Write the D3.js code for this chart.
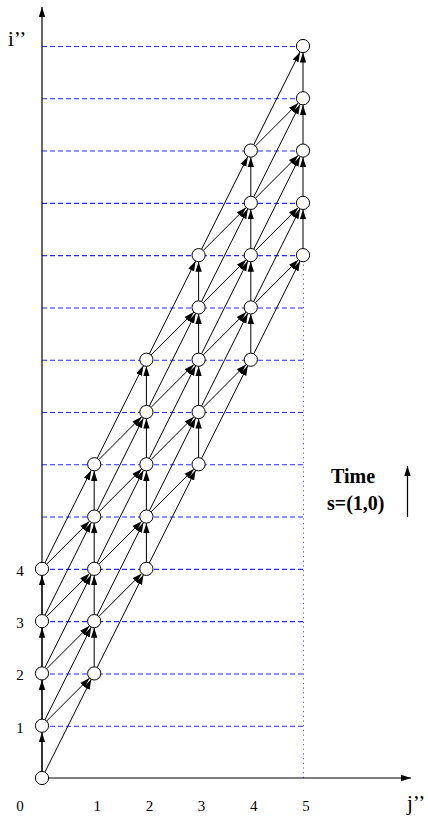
<!DOCTYPE html>
<html>
<head>
<meta charset="utf-8">
<script src="https://cdn.jsdelivr.net/npm/d3@7"></script>
<style>
  body { margin: 0; background: #fff; }
  text { font-family: "Liberation Serif", "DejaVu Serif", serif; }
</style>
</head>
<body>
<script>
// columns j'' and the first i'' of each column (5 nodes per column)
jValues = [0, 1, 2, 3, 4, 5]
colStart = [0, 2, 4, 6, 8, 10]
nodesPerCol = 5
// dependence vectors (dj, di)
deps = [[0, 1], [1, 1], [1, 2]]
// horizontal guide levels
levels = [1, 2, 3, 4, 5, 6, 7, 8, 9, 10, 11, 12, 13, 14]
xTicks = ["0", "1", "2", "3", "4", "5"]
yTicks = ["1", "2", "3", "4"]

width = 428
height = 817
r = 6.6

x = d3.scaleLinear().domain([0, 5]).range([42, 303])
y = d3.scaleLinear().domain([0, 14]).range([778, 46])

nodes = []
jValues.forEach((j, k) => {
  for (let n = 0; n < nodesPerCol; n++) nodes.push({j: j, i: colStart[k] + n})
})
has = new Set(nodes.map(d => d.j + "," + d.i))

edges = []
nodes.forEach(s => {
  deps.forEach(([dj, di]) => {
    if (has.has((s.j + dj) + "," + (s.i + di))) edges.push({s: s, t: {j: s.j + dj, i: s.i + di}})
  })
})

svg = d3.select("body").append("svg")
  .attr("width", width)
  .attr("height", height)

defs = svg.append("defs")
defs.append("marker")
  .attr("id", "head")
  .attr("markerUnits", "userSpaceOnUse")
  .attr("viewBox", "0 -4 10 8")
  .attr("refX", 10)
  .attr("refY", 0)
  .attr("markerWidth", 10)
  .attr("markerHeight", 8)
  .attr("orient", "auto")
  .append("path")
  .attr("d", "M0,-3.2L10,0L0,3.2Z")
  .attr("fill", "#000")

// guides
svg.append("g").selectAll("line")
  .data(levels)
  .join("line")
  .attr("x1", x(0))
  .attr("x2", x(5))
  .attr("y1", d => y(d) + 0.5)
  .attr("y2", d => y(d) + 0.5)
  .attr("stroke", "#2a2aff")
  .attr("stroke-width", 1.1)
  .attr("stroke-dasharray", "5,3")

svg.append("line")
  .attr("x1", x(5) + 0.5)
  .attr("x2", x(5) + 0.5)
  .attr("y1", y(10))
  .attr("y2", y(0))
  .attr("stroke", "#5555ff")
  .attr("stroke-width", 1)
  .attr("stroke-dasharray", "1.2,3.5")

// axes
svg.append("line")
  .attr("x1", x(0)).attr("y1", y(0))
  .attr("x2", x(0)).attr("y2", 7)
  .attr("stroke", "#000").attr("stroke-width", 1.2)
  .attr("marker-end", "url(#head)")
svg.append("line")
  .attr("x1", x(0)).attr("y1", y(0))
  .attr("x2", 411).attr("y2", y(0))
  .attr("stroke", "#000").attr("stroke-width", 1.2)
  .attr("marker-end", "url(#head)")

// dependence arrows
svg.append("g").selectAll("line")
  .data(edges)
  .join("line")
  .each(function(d) {
    const x1 = x(d.s.j), y1 = y(d.s.i), x2 = x(d.t.j), y2 = y(d.t.i)
    const L = Math.hypot(x2 - x1, y2 - y1)
    const ux = (x2 - x1) / L, uy = (y2 - y1) / L
    d3.select(this)
      .attr("x1", x1 + ux * r).attr("y1", y1 + uy * r)
      .attr("x2", x2 - ux * r).attr("y2", y2 - uy * r)
  })
  .attr("stroke", "#000")
  .attr("stroke-width", 1)
  .attr("marker-end", "url(#head)")

// nodes
svg.append("g").selectAll("circle")
  .data(nodes)
  .join("circle")
  .attr("cx", d => x(d.j))
  .attr("cy", d => y(d.i))
  .attr("r", r)
  .attr("fill", "#fff")
  .attr("stroke", "#000")
  .attr("stroke-width", 1)

// tick labels
svg.append("g").selectAll("text")
  .data(xTicks)
  .join("text")
  .attr("x", (d, k) => k === 0 ? 20 : x(k) + 3)
  .attr("y", 811)
  .attr("text-anchor", "middle")
  .attr("font-size", 15)
  .text(d => d)

svg.append("g").selectAll("text")
  .data(yTicks)
  .join("text")
  .attr("x", 20)
  .attr("y", d => y(+d) + 7)
  .attr("text-anchor", "middle")
  .attr("font-size", 15)
  .text(d => d)

svg.append("text")
  .attr("x", 8).attr("y", 46)
  .attr("font-size", 21)
  .text("i’’")
svg.append("text")
  .attr("x", 407).attr("y", 810)
  .attr("font-size", 21)
  .text("j’’")

// time direction
svg.append("text")
  .attr("x", 331).attr("y", 483)
  .attr("font-size", 20)
  .attr("font-weight", "bold")
  .text("Time")
svg.append("text")
  .attr("x", 327).attr("y", 510)
  .attr("font-size", 20)
  .attr("font-weight", "bold")
  .text("s=(1,0)")
svg.append("line")
  .attr("x1", 407.5).attr("y1", 517)
  .attr("x2", 407.5).attr("y2", 466)
  .attr("stroke", "#000").attr("stroke-width", 1.2)
  .attr("marker-end", "url(#head)")
</script>
</body>
</html>
